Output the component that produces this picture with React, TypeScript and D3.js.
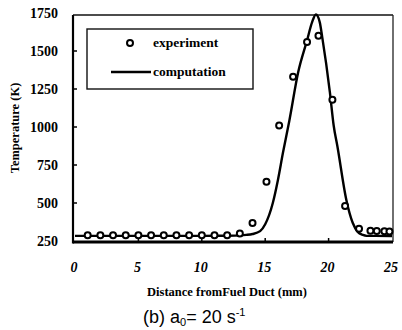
import React, {useRef, useEffect} from 'react';
import * as d3 from 'd3';

// experiment (open circles)
const expX = [1, 2, 3, 4, 5, 6, 7, 8, 9, 10, 11, 12, 13, 14, 15.1, 16.1, 17.2, 18.3, 19.2, 20.3, 21.3, 22.4, 23.3, 23.8, 24.4, 24.8];
const expT = [288, 288, 288, 288, 288, 288, 288, 288, 288, 288, 288, 288, 300, 368, 640, 1010, 1330, 1560, 1600, 1180, 480, 330, 318, 316, 314, 312];

// computation (solid line)
const compX = [0, 5, 10, 12, 13, 13.5, 14, 14.6, 15, 15.6, 16, 16.4, 16.9, 17.6, 18.3, 18.7, 19.0, 19.3, 19.5, 20.1, 20.4, 20.7, 21.4, 21.9, 22.3, 22.7, 23, 25];
const compT = [284, 284, 284, 285, 287, 290, 296, 315, 360, 500, 650, 830, 1040, 1360, 1570, 1690, 1740, 1690, 1590, 1230, 1010, 870, 520, 370, 310, 290, 284, 283];

const xTicks = [0, 5, 10, 15, 20, 25];
const yTicks = [250, 500, 750, 1000, 1250, 1500, 1750];

const serif = '"Liberation Serif", "DejaVu Serif", serif';

const App: React.FC = () => {
    const svgRef = useRef<SVGSVGElement | null>(null);

    useEffect(() => {
        const svg = d3.select(svgRef.current);
        svg.selectAll('*').remove();

        const x = d3.scaleLinear().domain([0, 25]).range([75, 392]);
        const y = d3.scaleLinear().domain([250, 1750]).range([241, 13]);

        const left = 73, right = 393, top = 15, bottom = 242;

        // frame
        svg.append('line').attr('x1', left).attr('x2', right).attr('y1', top).attr('y2', top)
            .attr('stroke', '#111').attr('stroke-width', 1.6);
        svg.append('line').attr('x1', right).attr('x2', right).attr('y1', top).attr('y2', bottom)
            .attr('stroke', '#222').attr('stroke-width', 1.3);
        svg.append('line').attr('x1', left).attr('x2', left).attr('y1', top).attr('y2', bottom + 1.5)
            .attr('stroke', '#000').attr('stroke-width', 2.2);
        svg.append('line').attr('x1', left).attr('x2', right).attr('y1', bottom).attr('y2', bottom)
            .attr('stroke', '#000').attr('stroke-width', 3);

        // ticks
        svg.selectAll('.ytick').data(yTicks.slice(1, -1)).enter().append('line')
            .attr('x1', left).attr('x2', left + 4)
            .attr('y1', d => y(d)).attr('y2', d => y(d))
            .attr('stroke', '#000').attr('stroke-width', 1.5);
        svg.selectAll('.xtick').data(xTicks.slice(1, -1)).enter().append('line')
            .attr('x1', d => x(d)).attr('x2', d => x(d))
            .attr('y1', bottom).attr('y2', bottom - 4)
            .attr('stroke', '#000').attr('stroke-width', 1.5);

        // tick labels
        svg.selectAll('.ylab').data(yTicks).enter().append('text')
            .attr('x', 58).attr('y', d => y(d) + 5)
            .attr('text-anchor', 'end')
            .style('font-family', serif).style('font-weight', 'bold').style('font-size', '14px')
            .text(d => d);
        svg.selectAll('.xlab').data(xTicks).enter().append('text')
            .attr('x', d => x(d) - 1).attr('y', 272)
            .attr('text-anchor', 'middle')
            .style('font-family', serif).style('font-weight', 'bold').style('font-style', 'italic').style('font-size', '14px')
            .text(d => d);

        // axis titles
        svg.append('text')
            .attr('x', 227).attr('y', 296)
            .attr('text-anchor', 'middle')
            .style('font-family', serif).style('font-weight', 'bold').style('font-size', '12.5px')
            .text('Distance fromFuel Duct (mm)');
        svg.append('text')
            .attr('transform', 'translate(19,128) rotate(-90)')
            .attr('text-anchor', 'middle')
            .style('font-family', serif).style('font-weight', 'bold').style('font-size', '12.5px')
            .text('Temperature (K)');

        // computation curve
        const line = d3.line<number>()
            .x((d, i) => x(compX[i]))
            .y(d => y(d))
            .curve(d3.curveMonotoneX);
        svg.append('path')
            .attr('d', line(compT))
            .attr('fill', 'none')
            .attr('stroke', '#000')
            .attr('stroke-width', 2.4);

        // experiment circles
        svg.selectAll('.pt').data(expT).enter().append('circle')
            .attr('cx', (d, i) => x(expX[i]))
            .attr('cy', d => y(d))
            .attr('r', 3)
            .attr('fill', 'white')
            .attr('stroke', '#000')
            .attr('stroke-width', 2);

        // legend
        svg.append('rect')
            .attr('x', 87).attr('y', 29).attr('width', 166).attr('height', 60)
            .attr('fill', 'white').attr('stroke', '#111').attr('stroke-width', 1.4);
        svg.append('circle')
            .attr('cx', 130).attr('cy', 43).attr('r', 3)
            .attr('fill', 'white').attr('stroke', '#000').attr('stroke-width', 2);
        svg.append('line')
            .attr('x1', 111).attr('x2', 151).attr('y1', 72).attr('y2', 72)
            .attr('stroke', '#000').attr('stroke-width', 2.4);
        svg.append('text')
            .attr('x', 153).attr('y', 47)
            .style('font-family', serif).style('font-weight', 'bold').style('font-size', '13.5px')
            .text('experiment');
        svg.append('text')
            .attr('x', 153).attr('y', 76)
            .style('font-family', serif).style('font-weight', 'bold').style('font-size', '13.5px')
            .text('computation');

        // caption
        const cap = svg.append('text')
            .attr('x', 143).attr('y', 323)
            .style('font-family', '"Liberation Sans", Arial, sans-serif').style('font-size', '18px');
        cap.append('tspan').text('(b)  a');
        cap.append('tspan').attr('dy', 3).style('font-size', '11px').text('0');
        cap.append('tspan').attr('dy', -3).text('= 20  s');
        cap.append('tspan').attr('dy', -7).style('font-size', '11px').text('-1');
    }, []);

    return (
        <svg ref={svgRef} width={402} height={330}
             style={{position: 'absolute', left: 0, top: 0, background: 'white'}}/>
    );
};

export default App;
